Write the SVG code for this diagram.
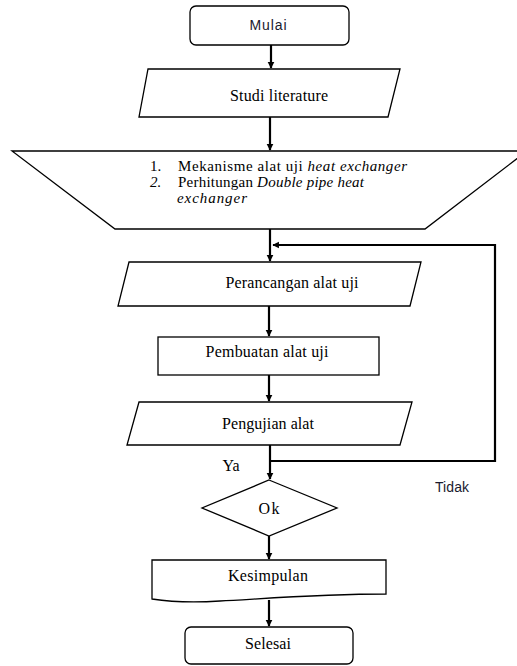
<svg xmlns="http://www.w3.org/2000/svg" width="517" height="666" viewBox="0 0 517 666">
<style>
.s{fill:#fff;stroke:#000;stroke-width:1.3}
.c{fill:none;stroke:#000;stroke-width:2.2}
.sf{font-family:"Liberation Serif","Times New Roman",serif;font-size:16px;fill:#000}
.li{font-size:15px}
.ss{font-family:"Liberation Sans",Arial,sans-serif;font-size:14px;fill:#1a1a2e}
.m{text-anchor:middle;dominant-baseline:central}
</style>
<defs>
<marker id="ah" viewBox="0 0 10 10" refX="9" refY="5" markerWidth="3" markerHeight="3.2" orient="auto" markerUnits="strokeWidth">
<path d="M0,0 L10,5 L0,10 z" fill="#000"/>
</marker>
</defs>
<g id="connectors">
<line class="c" x1="271" y1="45" x2="271" y2="68" marker-end="url(#ah)"/>
<line class="c" x1="270" y1="117" x2="270" y2="150" marker-end="url(#ah)"/>
<line class="c" x1="270" y1="229" x2="270" y2="261" marker-end="url(#ah)"/>
<polyline class="c" points="270,461 495,461 495,245 273,245" marker-end="url(#ah)"/>
<line class="c" x1="269" y1="306" x2="269" y2="336" marker-end="url(#ah)"/>
<line class="c" x1="269" y1="375" x2="269" y2="401" marker-end="url(#ah)"/>
<line class="c" x1="270" y1="445" x2="270" y2="479" marker-end="url(#ah)"/>
<line class="c" x1="269" y1="536" x2="269" y2="559" marker-end="url(#ah)"/>
<line class="c" x1="269" y1="600" x2="269" y2="626" marker-end="url(#ah)"/>
</g>
<g id="mulai">
<rect class="s" x="190" y="6" width="159" height="39" rx="6"/>
<text class="ss m" x="268" y="25" textLength="37">Mulai</text>
</g>
<g id="studi">
<polygon class="s" points="148,69 400,69 388,117 139,117"/>
<text class="sf m" x="279" y="95" textLength="98">Studi literature</text>
</g>
<g id="trapezoid">
<polygon class="s" points="12,151 527,151 425,229 115,229"/>
<text class="sf li" x="150" y="171">1.</text>
<text class="sf li" x="178" y="171" textLength="229">Mekanisme alat uji <tspan font-style="italic">heat exchanger</tspan></text>
<text class="sf li" x="150" y="187" font-style="italic">2.</text>
<text class="sf li" x="178" y="187" textLength="186">Perhitungan <tspan font-style="italic">Double pipe heat</tspan></text>
<text class="sf li" x="177" y="203" font-style="italic" textLength="70">exchanger</text>
</g>
<g id="perancangan">
<polygon class="s" points="129,262 421,262 410,306 118,306"/>
<text class="sf m" x="292" y="282" textLength="133">Perancangan alat uji</text>
</g>
<g id="pembuatan">
<rect class="s" x="158" y="337" width="221" height="38"/>
<text class="sf m" x="267" y="351" textLength="123">Pembuatan alat uji</text>
</g>
<g id="pengujian">
<polygon class="s" points="139,402 412,402 400,445 127,445"/>
<text class="sf m" x="268" y="423" textLength="92">Pengujian alat</text>
</g>
<text class="sf m" x="231" y="465" textLength="17">Ya</text>
<text class="ss m" x="452" y="487" textLength="34">Tidak</text>
<g id="ok">
<polygon class="s" points="269,480 337,508 269,536 202,508"/>
<text class="sf m" x="269" y="508" textLength="21">Ok</text>
</g>
<g id="kesimpulan">
<path class="s" d="M152,560 L386,560 L386,594 C320,594 260,599 220,601 C190,603 165,601 152,599 Z"/>
<text class="sf m" x="268" y="575" textLength="80">Kesimpulan</text>
</g>
<g id="selesai">
<rect class="s" x="185" y="627" width="168" height="37" rx="6"/>
<text class="sf m" x="268" y="643" textLength="46">Selesai</text>
</g>
</svg>
